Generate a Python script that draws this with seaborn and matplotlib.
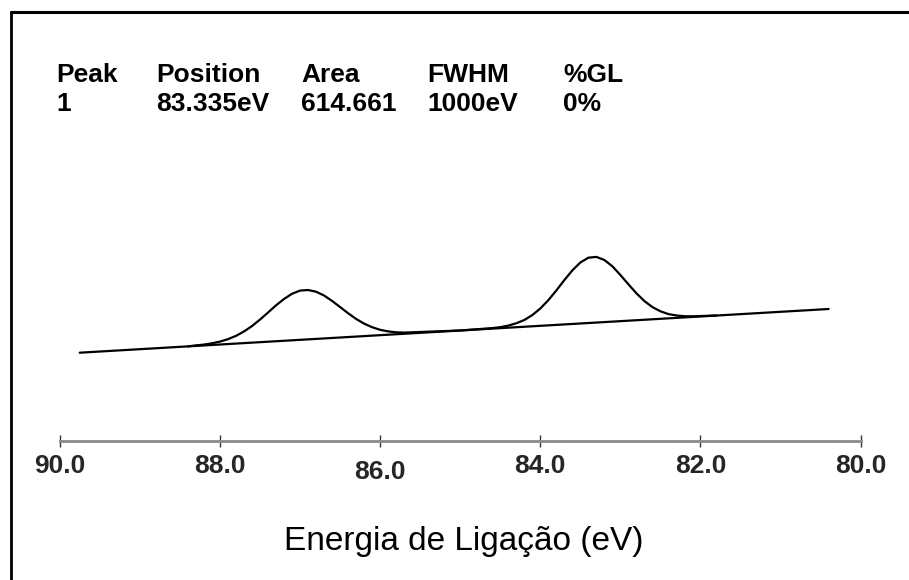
import numpy as np
import pandas as pd
import matplotlib
matplotlib.use("Agg")
import matplotlib.pyplot as plt
import matplotlib.transforms as mtransforms
from matplotlib.lines import Line2D
import seaborn as sns

# ---- data ----
# binding energy (eV) of the fitted envelope and its intensity (a.u.)
envelope_energy = [88.4, 88.3, 88.2, 88.1, 88.0, 87.9, 87.8, 87.7, 87.6, 87.5, 87.4,
                   87.3, 87.2, 87.1, 87.0, 86.9, 86.8, 86.7, 86.6, 86.5, 86.4, 86.3,
                   86.2, 86.1, 86.0, 85.9, 85.8, 85.7, 85.0, 84.6, 84.5, 84.4, 84.3,
                   84.2, 84.1, 84.0, 83.9, 83.8, 83.7, 83.6, 83.5, 83.4, 83.3, 83.2,
                   83.1, 83.0, 82.9, 82.8, 82.7, 82.6, 82.5, 82.4, 82.3, 82.2, 82.1, 81.8]
envelope_intensity = [94.6, 95.6, 96.4, 97.7, 99.4, 101.8, 105.1, 109.5, 114.9, 121.4, 128.4,
                      135.6, 142.0, 147.2, 150.4, 151.0, 149.3, 145.5, 140.1, 134.0, 127.8, 122.1,
                      117.4, 113.8, 111.2, 109.6, 108.7, 108.4, 110.5, 112.9, 113.8, 115.4, 117.7,
                      121.0, 125.9, 132.5, 140.8, 150.5, 160.9, 170.6, 178.5, 183.3, 184.1, 181.0,
                      174.7, 166.0, 156.7, 147.7, 139.9, 133.9, 129.7, 126.9, 125.5, 124.8, 124.7, 125.5]
# linear background
background_energy = [89.75, 80.40]
background_intensity = [88.3, 132.0]

tick_values = [90.0, 88.0, 86.0, 84.0, 82.0, 80.0]
tick_labels = ["90.0", "88.0", "86.0", "84.0", "82.0", "80.0"]

header_cols = ["Peak", "Position", "Area", "FWHM", "%GL"]
header_vals = ["1", "83.335eV", "614.661", "1000eV", "0%"]
x_label = "Energia de Ligação (eV)"

# ---- figure ----
sns.set_theme(style="white")
plt.rcParams['font.family'] = ['Liberation Sans', 'DejaVu Sans']

W, H = 909, 580
fig = plt.figure(figsize=(W / 100, H / 100), dpi=100)
fig.patch.set_facecolor("white")

ax_left, ax_right = 59.7, 860.7
ax_bottom_px, ax_top_px = 441, 141
ax = fig.add_axes([ax_left / W, (H - ax_bottom_px) / H,
                   (ax_right - ax_left) / W, (ax_bottom_px - ax_top_px) / H])
ax.set_facecolor("none")

env_df = pd.DataFrame({"energy": envelope_energy, "intensity": envelope_intensity})
bg_df = pd.DataFrame({"energy": background_energy, "intensity": background_intensity})

sns.lineplot(data=bg_df, x="energy", y="intensity", ax=ax, color="black",
             linewidth=1.6, estimator=None, sort=False)
sns.lineplot(data=env_df, x="energy", y="intensity", ax=ax, color="black",
             linewidth=1.6, estimator=None, sort=False)

ax.set_xlim(90.0, 80.0)
ax.set_ylim(0, 300)

for s in ["top", "right", "left"]:
    ax.spines[s].set_visible(False)
ax.spines["bottom"].set_color("#8a8a8a")
ax.spines["bottom"].set_linewidth(2.0)

ax.set_yticks([])
ax.set_ylabel("")
ax.set_xlabel("")
ax.set_xticks(tick_values)
ax.set_xticklabels(tick_labels, fontsize=19, fontweight="bold")
ax.tick_params(axis="x", direction="inout", length=9, width=1.0, color="#333333",
               pad=5, bottom=True)

# the 86.0 label sits slightly lower in the reference
for lbl in ax.get_xticklabels():
    if lbl.get_text() == "86.0":
        lbl.set_transform(lbl.get_transform() +
                          mtransforms.ScaledTranslation(0, -4 / 72, fig.dpi_scale_trans))

fig.text(464 / W, 1 - 550 / H, x_label, fontsize=24, ha="center", va="baseline",
         color="black")

# header table
col_x = [56, 156, 301, 427, 563]
for cx, head, val in zip(col_x, header_cols, header_vals):
    fig.text(cx / W, 1 - 82 / H, head, fontsize=19, fontweight="bold",
             ha="left", va="baseline", color="black")
    fig.text(cx / W, 1 - 111 / H, val, fontsize=19, fontweight="bold",
             ha="left", va="baseline", color="black")

# partial frame (top and left edges)
fig.add_artist(Line2D([10.5 / W, 1.0], [1 - 11.5 / H, 1 - 11.5 / H],
                      transform=fig.transFigure, color="black", linewidth=2.2))
fig.add_artist(Line2D([10.5 / W, 10.5 / W], [1 - 11.5 / H, 0.0],
                      transform=fig.transFigure, color="black", linewidth=2.0))

fig.savefig("out.png", dpi=100, facecolor="white")
